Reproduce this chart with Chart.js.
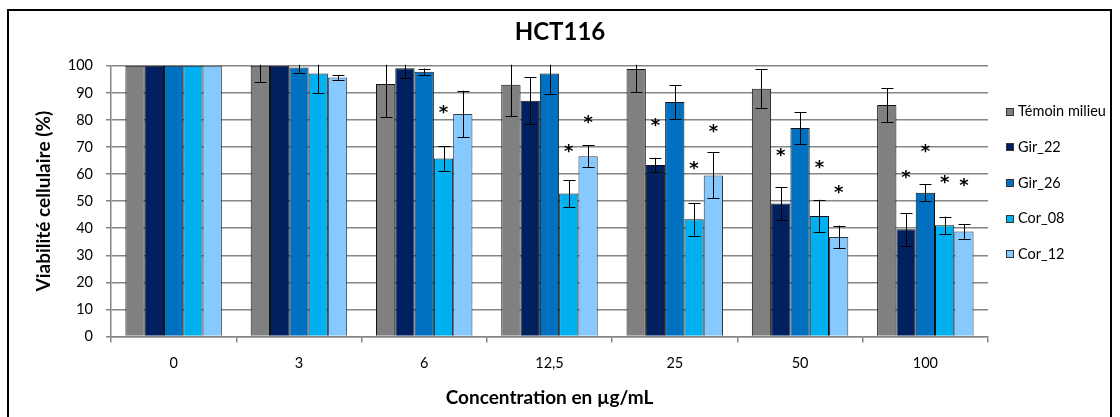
<!DOCTYPE html>
<html>
<head>
<meta charset="utf-8">
<title>HCT116</title>
<script src="https://cdn.jsdelivr.net/npm/chart.js@4.4.1/dist/chart.umd.min.js"></script>
<style>
  html, body { margin: 0; padding: 0; background: #fff; }
  #wrap { width: 1120px; height: 417px; }
</style>
</head>
<body>
<div id="wrap"><canvas id="chart" width="1120" height="417"></canvas></div>
<script>
// concentrations (µg/mL)
const labels = ['0', '3', '6', '12,5', '25', '50', '100'];
const seriesNames = ['Témoin milieu', 'Gir_22', 'Gir_26', 'Cor_08', 'Cor_12'];
const yTicks = [0, 10, 20, 30, 40, 50, 60, 70, 80, 90, 100];

// mean viability (%)
const temoin = [100, 100, 93.3, 93, 98.8, 91.5, 85.5];
const gir22 = [100, 100, 99.1, 87.1, 63.4, 49.1, 39.6];
const gir26 = [100, 99.4, 97.8, 97.2, 86.6, 77, 53.1];
const cor08 = [100, 97.2, 65.8, 52.8, 43.3, 44.5, 41.1];
const cor12 = [100, 95.7, 82.2, 66.6, 59.5, 36.8, 38.8];

// error bars (+/-)
const errTemoin = [0, 6.1, 12.3, 11.7, 8.6, 7.2, 6.3];
const errGir22 = [0, 0, 3.6, 8.6, 2.6, 6.1, 6];
const errGir26 = [0, 2, 1.2, 7.6, 6.3, 5.8, 3.2];
const errCor08 = [0, 7.3, 4.5, 5, 6, 6, 3.2];
const errCor12 = [0, 0.9, 8.6, 4, 8.5, 4.2, 2.7];

// height where the significance star sits (null = no star)
const starTemoin = [null, null, null, null, null, null, null];
const starGir22 = [null, null, null, null, 79, 68, 60];
const starGir26 = [null, null, null, null, null, null, 69.3];
const starCor08 = [null, null, 83.8, 69.3, 63, 63.4, 57.9];
const starCor12 = [null, null, null, 80.1, 77, 54.2, 57];

const values = [temoin, gir22, gir26, cor08, cor12];
const errors = [errTemoin, errGir22, errGir26, errCor08, errCor12];
const stars = [starTemoin, starGir22, starGir26, starCor08, starCor12];
const colors = ['#808080', '#002060', '#0070C0', '#00B0F0', '#85C9FF'];

const FONT = 'Lato';
const GRID = '#868686';

Chart.defaults.font.family = FONT;
Chart.defaults.color = '#000';

// white page + black frame around the whole figure
const framePlugin = {
  id: 'frame',
  beforeDraw(chart) {
    const ctx = chart.ctx;
    ctx.save();
    ctx.fillStyle = '#fff';
    ctx.fillRect(0, 0, chart.width, chart.height);
    ctx.strokeStyle = '#000';
    ctx.lineWidth = 2;
    ctx.strokeRect(8, 10, 1103, 440);
    ctx.restore();
  }
};

// error bars and stars, positioned from the bar elements and the y scale
const errorBarPlugin = {
  id: 'errorBars',
  afterDatasetsDraw(chart) {
    const ctx = chart.ctx;
    const yScale = chart.scales.y;
    const area = chart.chartArea;
    ctx.save();
    ctx.beginPath();
    ctx.rect(area.left, area.top - 1, area.right - area.left, area.bottom - area.top + 1);
    ctx.clip();
    ctx.strokeStyle = '#000';
    ctx.lineWidth = 1;
    chart.data.datasets.forEach((ds, i) => {
      const meta = chart.getDatasetMeta(i);
      meta.data.forEach((bar, j) => {
        const e = errors[i][j];
        if (!e) return;
        const v = ds.data[j];
        const yTop = yScale.getPixelForValue(v + e);
        const yBot = yScale.getPixelForValue(v - e);
        const x = Math.round(bar.x) + 0.5;
        ctx.beginPath();
        ctx.moveTo(x, yTop);
        ctx.lineTo(x, yBot);
        ctx.moveTo(x - 6, Math.round(yTop) + 0.5);
        ctx.lineTo(x + 6, Math.round(yTop) + 0.5);
        ctx.moveTo(x - 6, Math.round(yBot) + 0.5);
        ctx.lineTo(x + 6, Math.round(yBot) + 0.5);
        ctx.stroke();
      });
    });
    ctx.restore();

    // significance stars
    ctx.save();
    ctx.fillStyle = '#000';
    ctx.font = 'bold 18px "DejaVu Sans"';
    ctx.textAlign = 'center';
    ctx.textBaseline = 'alphabetic';
    const m = ctx.measureText('*');
    const shift = (m.actualBoundingBoxAscent - m.actualBoundingBoxDescent) / 2;
    chart.data.datasets.forEach((ds, i) => {
      const meta = chart.getDatasetMeta(i);
      meta.data.forEach((bar, j) => {
        const s = stars[i][j];
        if (s == null) return;
        ctx.fillText('*', bar.x, yScale.getPixelForValue(s) + shift);
      });
    });
    ctx.restore();
  }
};

// legend on the right, Excel style
const legendPlugin = {
  id: 'sideLegend',
  afterDraw(chart) {
    const ctx = chart.ctx;
    ctx.save();
    ctx.font = '14.5px ' + FONT;
    ctx.textBaseline = 'middle';
    ctx.textAlign = 'left';
    chart.data.datasets.forEach((ds, i) => {
      const y = 111.5 + i * 35.7;
      ctx.fillStyle = ds.backgroundColor;
      ctx.fillRect(1006, Math.round(y) - 4, 8, 8);
      ctx.strokeStyle = '#333';
      ctx.lineWidth = 1;
      ctx.strokeRect(1006.5, Math.round(y) - 3.5, 7, 7);
      ctx.fillStyle = '#000';
      ctx.fillText(ds.label, 1018, y);
    });
    ctx.restore();
  }
};

const datasets = seriesNames.map((name, i) => ({
  label: name,
  data: values[i],
  backgroundColor: colors[i],
  borderColor: i === 4 ? '#2a3a4a' : '#111',
  borderWidth: 1,
  categoryPercentage: 0.77,
  barPercentage: 1
}));

new Chart(document.getElementById('chart'), {
  type: 'bar',
  data: { labels: labels, datasets: datasets },
  options: {
    responsive: false,
    animation: false,
    layout: { padding: 0 },
    plugins: {
      legend: { display: false },
      tooltip: { enabled: false },
      title: {
        display: true,
        text: 'HCT116',
        color: '#000',
        font: { family: FONT, size: 24, weight: 'bold' },
        padding: { top: 18, bottom: 19 }
      }
    },
    scales: {
      x: {
        grid: { display: true, drawOnChartArea: false, tickLength: 6, color: GRID, lineWidth: 1.5 },
        border: { color: GRID, width: 1.5 },
        ticks: { font: { size: 14.5 }, color: '#000', padding: 12, maxRotation: 0 },
        title: {
          display: true,
          text: 'Concentration en µg/mL',
          color: '#000',
          font: { family: FONT, size: 19, weight: 'bold' },
          padding: { top: 0, bottom: 8 }
        },
        afterFit(scale) { scale.height = 80.5; }
      },
      y: {
        min: 0,
        max: 100,
        afterBuildTicks(scale) { scale.ticks = yTicks.map(v => ({ value: v })); },
        grid: { color: GRID, lineWidth: 1.5, tickLength: 5 },
        border: { color: GRID, width: 1.5 },
        ticks: { font: { size: 14.5 }, color: '#000', padding: 13 },
        title: {
          display: true,
          text: 'Viabilité cellulaire (%)',
          color: '#000',
          font: { family: FONT, size: 19, weight: 'bold' },
          padding: { top: 32, bottom: 0 }
        },
        afterFit(scale) { scale.width = 111; }
      },
      // empty axis that only reserves the room where the legend is drawn
      legendSpace: {
        type: 'linear',
        position: 'right',
        display: true,
        grid: { display: false },
        border: { display: false },
        ticks: { display: false },
        afterFit(scale) { scale.width = 132; }
      }
    }
  },
  plugins: [framePlugin, errorBarPlugin, legendPlugin]
});
</script>
</body>
</html>
